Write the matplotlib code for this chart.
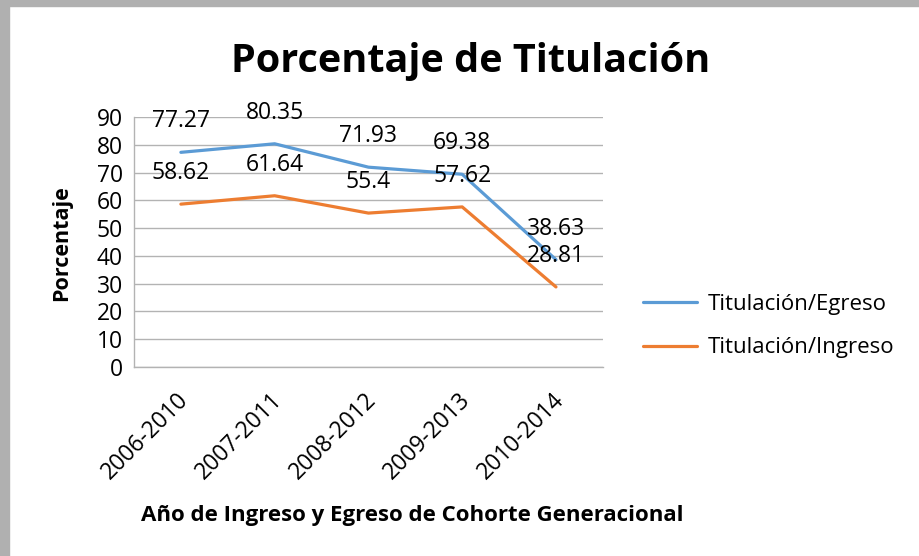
import matplotlib
matplotlib.use("Agg")
import matplotlib.pyplot as plt
from matplotlib.patches import Rectangle
from matplotlib.transforms import ScaledTranslation

plt.rcParams['font.family'] = ['Open Sans', 'DejaVu Sans']

cohortes = ["2006-2010", "2007-2011", "2008-2012", "2009-2013", "2010-2014"]
titulacion_egreso = [77.27, 80.35, 71.93, 69.38, 38.63]
titulacion_ingreso = [58.62, 61.64, 55.4, 57.62, 28.81]
yticks = [0, 10, 20, 30, 40, 50, 60, 70, 80, 90]

azul = "#5B9BD5"
naranja = "#ED7D31"
gris = "#B3B3B3"

fig = plt.figure(figsize=(9.19, 5.56), dpi=100)
ax = fig.add_axes([0.1458, 0.340, 0.656 - 0.1458, 0.7896 - 0.340])

x = list(range(len(cohortes)))
ax.plot(x, titulacion_egreso, color=azul, lw=2.3, label="Titulación/Egreso",
        solid_capstyle="round")
ax.plot(x, titulacion_ingreso, color=naranja, lw=2.3, label="Titulación/Ingreso",
        solid_capstyle="round")

for serie in (titulacion_egreso, titulacion_ingreso):
    for xi, v in zip(x, serie):
        ax.annotate(f"{v:g}", (xi, v), xytext=(0, 18), textcoords="offset points",
                    ha="center", va="baseline", fontsize=16.5, color="black")

ax.set_xlim(-0.5, len(cohortes) - 0.5)
ax.set_ylim(0, 90)
ax.set_yticks(yticks)
ax.set_xticks(x)
ax.set_xticklabels(cohortes, rotation=45, ha="right", rotation_mode="anchor")
ax.tick_params(axis="both", length=0, labelsize=16.5, colors="black")
ax.tick_params(axis="y", pad=8)
ax.tick_params(axis="x", pad=15)
desplaza = ScaledTranslation(-4 / 100, 0, fig.dpi_scale_trans)
for etiqueta in ax.get_xticklabels():
    etiqueta.set_transform(etiqueta.get_transform() + desplaza)
ax.grid(axis="y", color=gris, lw=1)
ax.set_axisbelow(True)
for lado in ("top", "right"):
    ax.spines[lado].set_visible(False)
for lado in ("left", "bottom"):
    ax.spines[lado].set_color(gris)
    ax.spines[lado].set_linewidth(1)

ax.set_ylabel("Porcentaje", fontsize=15.5, fontweight="bold")
ax.yaxis.set_label_coords(-0.132, 0.496)
fig.text(0.449, 0.072, "Año de Ingreso y Egreso de Cohorte Generacional",
         ha="center", va="center", fontsize=16, fontweight="bold")
fig.text(0.512, 0.89, "Porcentaje de Titulación", ha="center", va="center",
         fontsize=28.5, fontweight="bold")

fig.legend(loc="center left", bbox_to_anchor=(0.6997, 0.413), frameon=False,
           fontsize=16, handlelength=2.43, labelspacing=1.0, handletextpad=0.5,
           borderpad=0, borderaxespad=0)

# marco gris del recorte
fig.patches.append(Rectangle((0, 1 - 6 / 556), 1, 6 / 556, transform=fig.transFigure,
                             color="#B0B0B0", zorder=-1))
fig.patches.append(Rectangle((0, 0), 9 / 919, 1, transform=fig.transFigure,
                             color="#B0B0B0", zorder=-1))

fig.savefig("out.png", dpi=100)
